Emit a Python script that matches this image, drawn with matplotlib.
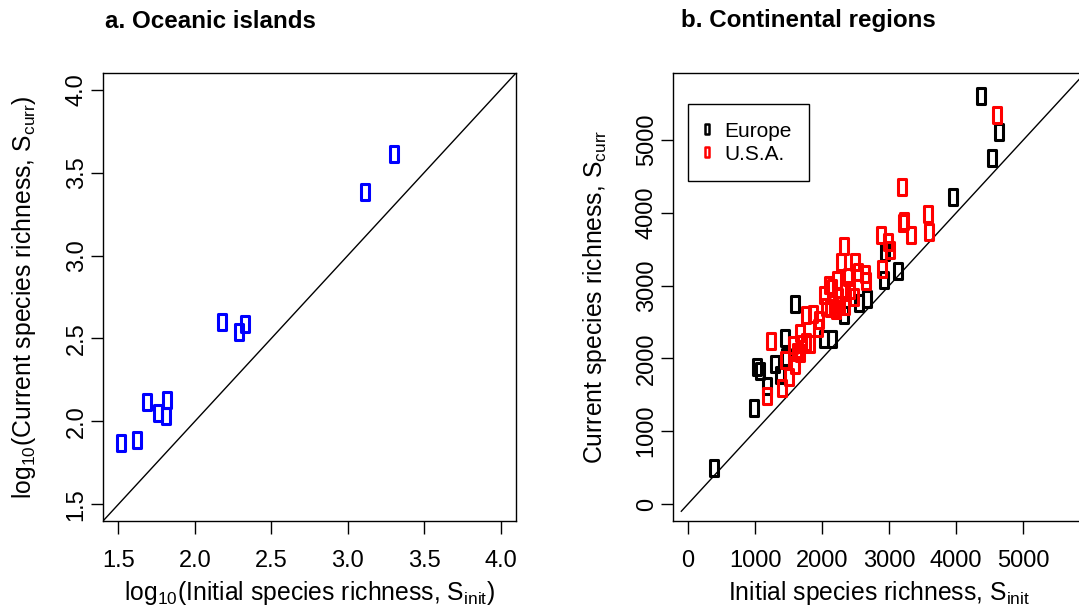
import numpy as np
import matplotlib
matplotlib.use('Agg')
import matplotlib.pyplot as plt
from matplotlib.path import Path
from matplotlib.lines import Line2D

plt.rcParams['font.family'] = ['Liberation Sans', 'DejaVu Sans']
plt.rcParams['mathtext.default'] = 'regular'

# a. oceanic islands (log10 values)
isl_init = [1.52, 1.62, 1.69, 1.76, 1.81, 1.82, 2.18, 2.29, 2.33, 3.11, 3.30]
isl_curr = [1.87, 1.89, 2.12, 2.05, 2.03, 2.13, 2.60, 2.54, 2.59, 3.38, 3.61]

# b. continental regions
eu_init = [383, 989, 1024, 1069, 1183, 1293, 1367, 1447, 1601, 1457, 2023, 2152,
           2326, 2545, 2664, 2928, 3131, 2933, 3952, 4533, 4633, 4364]
eu_curr = [490, 1323, 1886, 1827, 1621, 1923, 1772, 2275, 2742, 2014, 2262, 2262,
           2596, 2756, 2811, 3077, 3196, 3466, 4221, 4748, 5110, 5604]

us_init = [1233, 1178, 1402, 1442, 1506, 1601, 1631, 1665, 1705, 1814, 1755, 1864,
           1939, 1954, 2028, 2103, 2053, 2172, 2272, 2222, 2326, 2287, 2386, 2485,
           2535, 2421, 2336, 2153, 2634, 2659, 2471, 2883, 2983, 3007, 2893, 3330,
           3206, 3594, 2237, 2113, 1566, 1665, 1765, 2336, 2212, 3191, 3216, 3584,
           4607]
us_curr = [2239, 1483, 1589, 1978, 1749, 1909, 2092, 2344, 2198, 2198, 2596, 2610,
           2413, 2527, 2871, 3008, 2701, 2688, 2733, 3077, 3544, 3329, 3113, 3329,
           3191, 2939, 2720, 2962, 3159, 3068, 2848, 3695, 3603, 3489, 3223, 3695,
           3855, 3741, 2848, 2688, 2184, 2069, 2230, 2917, 2665, 4350, 3892, 3983,
           5343]

a_ticks = [1.5, 2.0, 2.5, 3.0, 3.5, 4.0]
b_ticks = [0, 1000, 2000, 3000, 4000, 5000]

# tall narrow box marker
rect = Path([(-0.45, -1), (0.45, -1), (0.45, 1), (-0.45, 1), (-0.45, -1)], closed=True)

W, H = 1079, 607
fig = plt.figure(figsize=(W / 100, H / 100), dpi=100)
ax1 = fig.add_axes([103 / W, (H - 521) / H, 413 / W, 448 / H])
ax2 = fig.add_axes([673 / W, (H - 521) / H, 412 / W, 448 / H])

for ax in (ax1, ax2):
    for s in ax.spines.values():
        s.set_linewidth(1.0)
    ax.tick_params(direction='out', length=9, width=1, labelsize=17)
    ax.tick_params(axis='x', pad=12)
    ax.tick_params(axis='y', pad=2)

ms = 12
mew = 2.2
lab_fs = 17.8

# panel a
ax1.plot([1.4, 4.1], [1.4, 4.1], color='black', lw=1)
ax1.plot(isl_init, isl_curr, linestyle='none', marker=rect, ms=ms, mfc='none',
         mec='#0000ff', mew=mew)
ax1.set_xlim(1.4, 4.1)
ax1.set_ylim(1.4, 4.1)
ax1.set_xticks(a_ticks)
ax1.set_xticklabels(['%.1f' % t for t in a_ticks])
ax1.set_yticks(a_ticks)
ax1.set_yticklabels(['%.1f' % t for t in a_ticks], rotation=90, va='center')
ax1.set_xlabel(r'log$_{10}$(Initial species richness, S$_{init}$)', fontsize=lab_fs, labelpad=5)
ax1.set_ylabel(r'log$_{10}$(Current species richness, S$_{curr}$)', fontsize=lab_fs, labelpad=20)

# panel b
ax2.plot([-100, 6000], [-100, 6000], color='black', lw=1)
ax2.plot(eu_init, eu_curr, linestyle='none', marker=rect, ms=ms, mfc='none',
         mec='black', mew=mew)
ax2.plot(us_init, us_curr, linestyle='none', marker=rect, ms=ms, mfc='none',
         mec='#ff0000', mew=mew)
ax2.set_xlim(-224, 5920)
ax2.set_ylim(-234, 5920)
ax2.set_xticks(b_ticks)
ax2.set_xticklabels([str(t) for t in b_ticks])
ax2.set_yticks(b_ticks)
ax2.set_yticklabels([str(t) for t in b_ticks], rotation=90, va='center')
ax2.set_xlabel(r'Initial species richness, S$_{init}$', fontsize=lab_fs, labelpad=5)
ax2.set_ylabel(r'Current species richness, S$_{curr}$', fontsize=lab_fs, labelpad=19)

handles = [Line2D([], [], linestyle='none', marker=rect, ms=7, mfc='none', mec=c, mew=1.8)
           for c in ('black', '#ff0000')]
leg = ax2.legend(handles, ['Europe', 'U.S.A.'], loc='upper left',
                 bbox_to_anchor=(0.036, 0.931), borderaxespad=0, fontsize=15,
                 fancybox=False, framealpha=1, edgecolor='black',
                 handlelength=0.1, handletextpad=0.8, labelspacing=0.2,
                 borderpad=0.85)
leg.get_frame().set_linewidth(1.0)

fig.text(105 / W, 1 - 21 / H, 'a. Oceanic islands', fontsize=17.4, fontweight='bold',
         ha='left', va='center')
fig.text(681 / W, 1 - 21 / H, 'b. Continental regions', fontsize=17.4, fontweight='bold',
         ha='left', va='center')

fig.savefig('out.png', dpi=100)
